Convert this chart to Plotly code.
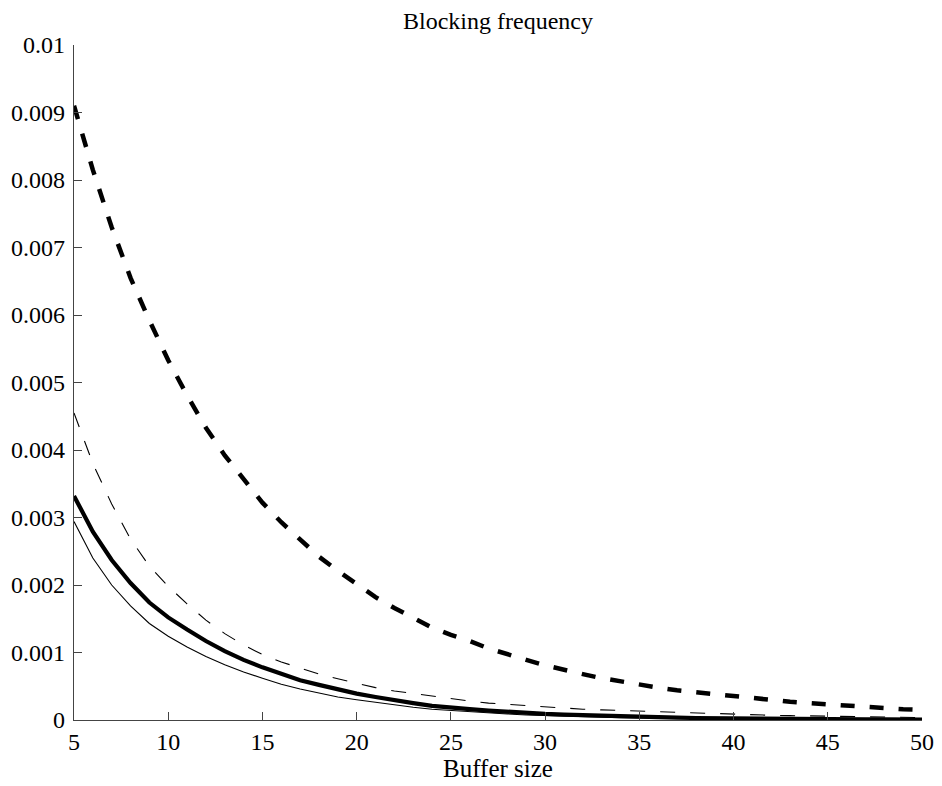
import plotly.graph_objects as go

buffer_size = list(range(5, 51))

thick_dashed = [0.0091, 0.00815, 0.0073, 0.00655, 0.00592, 0.00533, 0.00481, 0.00433, 0.00392, 0.00356,
                0.00322, 0.00293, 0.00268, 0.00242, 0.00221, 0.00201, 0.00182, 0.00166, 0.00151, 0.00137,
                0.00126, 0.00117, 0.00106, 0.00097, 0.00089, 0.00081, 0.00074, 0.00068, 0.00062, 0.00057,
                0.00053, 0.00048, 0.00044, 0.00041, 0.00038, 0.00035, 0.00032, 0.00029, 0.00027, 0.00025,
                0.00023, 0.00021, 0.00019, 0.00018, 0.00016, 0.00015]

thin_dashed = [0.00455, 0.00380, 0.00320, 0.00268, 0.00228, 0.00198, 0.00172, 0.00148, 0.00128, 0.00111,
               0.00097, 0.00086, 0.00077, 0.00068, 0.00061, 0.00054, 0.00048, 0.00043, 0.00039, 0.00035,
               0.00031, 0.00028, 0.00025, 0.00023, 0.00021, 0.00019, 0.00017, 0.00016, 0.00015, 0.00014,
               0.00013, 0.00012, 0.00011, 0.00010, 0.00009, 0.00008, 0.000075, 0.00007, 0.000065, 0.00006,
               0.000055, 0.00005, 0.000045, 0.00004, 0.000038, 0.000035]

thick_solid = [0.00332, 0.00279, 0.00237, 0.00203, 0.00174, 0.00152, 0.00134, 0.00117, 0.00102, 0.00089,
               0.00078, 0.00068, 0.00059, 0.00052, 0.00045, 0.00039, 0.00034, 0.00029, 0.00025, 0.00021,
               0.00018, 0.00016, 0.00014, 0.00012, 0.00010, 0.00009, 0.00008, 0.00007, 0.00006, 0.000052,
               0.000045, 0.00004, 0.000035, 0.00003, 0.000026, 0.000023, 0.00002, 0.000017, 0.000015, 0.000013,
               0.000011, 0.00001, 0.000009, 0.000008, 0.000007, 0.000006]

thin_solid = [0.00294, 0.00240, 0.00200, 0.00169, 0.00143, 0.00124, 0.00108, 0.00094, 0.00082, 0.00071,
              0.00062, 0.00053, 0.00046, 0.00040, 0.00034, 0.00030, 0.00026, 0.00022, 0.00019, 0.00016,
              0.00014, 0.00012, 0.00010, 0.00009, 0.000075, 0.000065, 0.000055, 0.000048, 0.00004, 0.000035,
              0.00003, 0.000026, 0.000022, 0.000019, 0.000016, 0.000014, 0.000012, 0.00001, 0.000009, 0.000008,
              0.000007, 0.000006, 0.000005, 0.000004, 0.0000035, 0.000003]

x_ticks = [5, 10, 15, 20, 25, 30, 35, 40, 45, 50]
x_tick_labels = [str(v) for v in x_ticks]
y_ticks = [0, 0.001, 0.002, 0.003, 0.004, 0.005, 0.006, 0.007, 0.008, 0.009, 0.01]
y_tick_labels = ["0", "0.001", "0.002", "0.003", "0.004", "0.005", "0.006", "0.007", "0.008", "0.009", "0.01"]

FONT = "Liberation Serif, Times New Roman, serif"

fig = go.Figure()
fig.add_trace(go.Scatter(x=buffer_size, y=thin_solid, mode="lines",
                         line=dict(color="black", width=1.1), showlegend=False))
fig.add_trace(go.Scatter(x=buffer_size, y=thin_dashed, mode="lines",
                         line=dict(color="black", width=1.1, dash="15px,15px"), showlegend=False))
fig.add_trace(go.Scatter(x=buffer_size, y=thick_solid, mode="lines",
                         line=dict(color="black", width=4.2), showlegend=False))
fig.add_trace(go.Scatter(x=buffer_size, y=thick_dashed, mode="lines",
                         line=dict(color="black", width=4.5, dash="14px,15px"), showlegend=False))

# page body has an 8px margin; size the figure so it fills the rest of the 942x786 window
fig.update_layout(
    width=934, height=778,
    margin=dict(l=66, r=20, t=37, b=66),
    paper_bgcolor="white", plot_bgcolor="white",
    font=dict(family=FONT, color="black", size=22),
    title=dict(text="Blocking frequency", x=0.5, xref="paper", xanchor="center",
               y=1 - 12.5 / 778, yref="container", yanchor="middle",
               font=dict(family=FONT, size=24, color="black")),
    xaxis=dict(range=[5, 50], tickvals=x_ticks, ticktext=x_tick_labels, automargin=False,
               showgrid=False, zeroline=False, showline=True, linecolor="#444", linewidth=1.3,
               ticks="inside", ticklen=8, tickcolor="#444", tickwidth=1,
               tickfont=dict(family=FONT, size=24, color="black"),
               title=dict(text="Buffer size", standoff=3, font=dict(family=FONT, size=25, color="black"))),
    yaxis=dict(range=[0, 0.01], tickvals=y_ticks, ticktext=y_tick_labels, automargin=False,
               showgrid=False, zeroline=False, showline=True, linecolor="#444", linewidth=1.3,
               ticks="inside", ticklen=8, tickcolor="#444", tickwidth=1,
               ticklabelstandoff=3,
               tickfont=dict(family=FONT, size=24, color="black")),
)

fig.write_html("out.html")
